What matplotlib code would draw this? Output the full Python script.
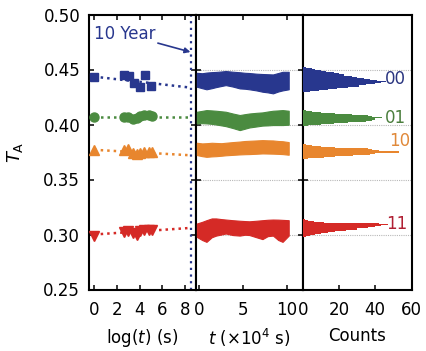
import matplotlib
matplotlib.use("Agg")
import matplotlib.pyplot as plt
import numpy as np

plt.rcParams['font.family'] = ['DejaVu Sans']
plt.rcParams['mathtext.fontset'] = 'dejavusans'

# ---------------- data ----------------
states = ["00", "01", "10", "11"]
colors = ["#28378e", "#4b8b40", "#e8862e", "#d52a26"]
label_colors = ["#2a3580", "#4b7e3d", "#e0893a", "#b01f33"]
markers = ["s", "o", "^", "v"]

# left panel: log(t) scatter
logt = [0, 2.6, 3.1, 3.5, 4.0, 4.5, 5.0]
logt_b = [0, 2.6, 3.0, 3.45, 3.75, 4.0, 4.4, 4.8, 5.1]
ta_00 = [0.4433, 0.4454, 0.4445, 0.4377, 0.4340, 0.4454, 0.4353]
ta_01 = [0.4070, 0.4070, 0.4064, 0.4046, 0.4060, 0.4077, 0.4086, 0.4086, 0.4077]
ta_10 = [0.3770, 0.3770, 0.3780, 0.3740, 0.3733, 0.3740, 0.3748, 0.3748, 0.3748]
ta_11 = [0.2985, 0.3021, 0.3030, 0.3015, 0.3000, 0.3030, 0.3045, 0.3045, 0.3045]
fit_x = [0, 8.5]
fit_00 = [0.4435, 0.4335]
fit_01 = [0.4070, 0.4070]
fit_10 = [0.3770, 0.3720]
fit_11 = [0.3000, 0.3060]
ten_year = 8.5

# middle panel: time-series envelopes (t in 1e4 s)
t_env = [-0.3, 0.3, 0.8, 1.4, 1.9, 2.5, 3.0, 3.8, 4.6, 5.2, 5.7, 6.5, 7.2, 7.8, 8.4, 9.0, 9.5, 10.2]
up_00 = [0.4470, 0.4466, 0.4472, 0.4476, 0.4478, 0.4482, 0.4486, 0.4480, 0.4475, 0.4470,
         0.4468, 0.4462, 0.4459, 0.4457, 0.4455, 0.4468, 0.4479, 0.4479]
lo_00 = [0.4343, 0.4330, 0.4320, 0.4330, 0.4340, 0.4350, 0.4358, 0.4345, 0.4328, 0.4325,
         0.4320, 0.4310, 0.4298, 0.4292, 0.4283, 0.4300, 0.4310, 0.4320]
up_01 = [0.4116, 0.4124, 0.4131, 0.4128, 0.4125, 0.4120, 0.4116, 0.4100, 0.4086, 0.4094,
         0.4100, 0.4106, 0.4110, 0.4118, 0.4125, 0.4128, 0.4131, 0.4125]
lo_01 = [0.4010, 0.4012, 0.4010, 0.4006, 0.4000, 0.3992, 0.3985, 0.3968, 0.3949, 0.3962,
         0.3973, 0.3982, 0.3990, 0.3992, 0.3995, 0.3995, 0.3995, 0.3998]
up_10 = [0.3834, 0.3828, 0.3830, 0.3834, 0.3832, 0.3830, 0.3834, 0.3840, 0.3845, 0.3850,
         0.3852, 0.3855, 0.3858, 0.3856, 0.3855, 0.3850, 0.3848, 0.3840]
lo_10 = [0.3722, 0.3712, 0.3706, 0.3710, 0.3712, 0.3716, 0.3720, 0.3724, 0.3728, 0.3730,
         0.3731, 0.3734, 0.3737, 0.3736, 0.3735, 0.3733, 0.3731, 0.3725]
up_11 = [0.3100, 0.3115, 0.3130, 0.3146, 0.3146, 0.3140, 0.3136, 0.3130, 0.3125, 0.3122,
         0.3120, 0.3125, 0.3130, 0.3134, 0.3136, 0.3135, 0.3133, 0.3130]
lo_11 = [0.2978, 0.2950, 0.2933, 0.2975, 0.2990, 0.3000, 0.3009, 0.2995, 0.2990, 0.2998,
         0.2995, 0.2975, 0.2958, 0.2985, 0.2990, 0.2950, 0.2933, 0.2990]

# right panel: histograms (bin centre in T_A, counts)
bins_00 = [0.430, 0.431, 0.432, 0.433, 0.434, 0.435, 0.436, 0.437, 0.438, 0.439, 0.440,
           0.441, 0.442, 0.443, 0.444, 0.445, 0.446, 0.447, 0.448, 0.449, 0.450, 0.451, 0.452]
cnt_00 = [4, 9, 14, 19, 25, 31, 35, 40, 43, 46, 41, 37, 34, 30, 27, 23, 20, 17, 13, 10, 7, 5, 2]
bins_01 = [0.399, 0.400, 0.401, 0.402, 0.403, 0.404, 0.405, 0.406, 0.407, 0.408, 0.409,
           0.410, 0.411, 0.412, 0.413]
cnt_01 = [3, 10, 17, 25, 35, 38, 40, 44, 38, 36, 27, 18, 10, 5, 2]
bins_10 = [0.369, 0.370, 0.371, 0.372, 0.373, 0.374, 0.375, 0.376, 0.377, 0.378, 0.379,
           0.380, 0.381, 0.382]
cnt_10 = [3, 12, 18, 28, 37, 40, 53, 42, 38, 36, 18, 10, 5, 2]
bins_11 = [0.298, 0.299, 0.300, 0.301, 0.302, 0.303, 0.304, 0.305, 0.306, 0.307, 0.308,
           0.309, 0.310, 0.311, 0.312, 0.313, 0.314]
cnt_11 = [2, 4, 7, 10, 14, 18, 24, 30, 36, 40, 43, 47, 42, 12, 6, 3, 1]
bin_width = 0.001
label_x = [45.5, 45.5, 47.5, 46.0]
label_y = [0.4410, 0.4056, 0.3846, 0.3094]

# ---------------- figure ----------------
W, H = 426, 351
fig = plt.figure(figsize=(W / 100, H / 100), dpi=100)
top = 1 - 14.5 / H
bot = 1 - 289.5 / H
hgt = top - bot
x0, x1, x2, x3 = 88.5 / W, 196 / W, 302.7 / W, 411.5 / W
axL = fig.add_axes([x0, bot, x1 - x0, hgt])
axM = fig.add_axes([x1, bot, x2 - x1, hgt])
axR = fig.add_axes([x2, bot, x3 - x2, hgt])

FS = 12
for ax in (axL, axM, axR):
    ax.set_ylim(0.25, 0.50)
    for s in ax.spines.values():
        s.set_linewidth(1.5)
    ax.tick_params(direction='in', length=3.5, width=1.1, labelsize=FS)
    ax.tick_params(axis='x', pad=8)
    ax.tick_params(axis='y', pad=6)

# left panel
axL.set_xlim(-0.5, 8.95)
axL.set_xticks([0, 2, 4, 6, 8])
axL.set_yticks([0.25, 0.30, 0.35, 0.40, 0.45, 0.50])
axL.set_yticklabels(["0.25", "0.30", "0.35", "0.40", "0.45", "0.50"])
axL.tick_params(top=True, right=True)
axL.axvline(ten_year, color=colors[0], ls=(0, (1, 2)), lw=1.6)
left_x = [logt, logt_b, logt_b, logt_b]
left_y = [ta_00, ta_01, ta_10, ta_11]
fits = [fit_00, fit_01, fit_10, fit_11]
for i in range(4):
    axL.plot(fit_x, fits[i], color=colors[i], ls=(0, (1, 1.6)), lw=1.8, zorder=2)
    axL.plot(left_x[i], left_y[i], ls='none', marker=markers[i], color=colors[i],
             markersize=6.5 if markers[i] != 's' else 5.5, zorder=3)
axL.annotate("10 Year", xy=(8.46, 0.4659), xytext=(-0.05, 0.4823),
             color=colors[0], fontsize=FS, va='center', ha='left',
             arrowprops=dict(arrowstyle='-|>', color=colors[0], lw=1.2,
                             shrinkA=0, shrinkB=0, mutation_scale=8))
axL.set_ylabel(r"$T_\mathrm{A}$", fontsize=FS + 1, labelpad=13)
axL.set_xlabel(r"log($t$) (s)", fontsize=FS, labelpad=6)

# middle panel
axM.set_xlim(-0.4, 11.8)
axM.set_xticks([0, 5, 10])
axM.set_yticks([0.30, 0.35, 0.40, 0.45])
axM.tick_params(top=True, right=True, labelleft=False)
ups = [up_00, up_01, up_10, up_11]
los = [lo_00, lo_01, lo_10, lo_11]
for i in range(4):
    axM.fill_between(t_env, los[i], ups[i], color=colors[i], lw=0.8,
                     edgecolor=colors[i], zorder=3)
for y in [0.30, 0.35, 0.40, 0.45]:
    axM.axhline(y, color='#b8b8b8', ls=(0, (1, 1)), lw=0.8, zorder=1)
axM.set_xlabel(r"$t$ ($\times$10$^4$ s)", fontsize=FS, labelpad=6)

# right panel
axR.set_xlim(0, 59.5)
axR.set_xticks([0, 20, 40, 60])
axR.set_yticks([0.30, 0.35, 0.40, 0.45])
axR.tick_params(labelleft=False)
bins = [bins_00, bins_01, bins_10, bins_11]
cnts = [cnt_00, cnt_01, cnt_10, cnt_11]
for i in range(4):
    centres = np.asarray(bins[i])
    edges = np.append(centres - bin_width / 2, centres[-1] + bin_width / 2)
    axR.stairs(cnts[i], edges, orientation='horizontal', fill=True,
               color=colors[i], lw=0, zorder=3)
    axR.text(label_x[i], label_y[i], states[i], color=label_colors[i], fontsize=FS,
             ha='left', va='center', zorder=4)
for y in [0.30, 0.35, 0.40, 0.45]:
    axR.axhline(y, color='#b8b8b8', ls=(0, (1, 1)), lw=0.8, zorder=1)
axR.set_xlabel("Counts", fontsize=FS, labelpad=6)

fig.savefig("out.png", dpi=100)
